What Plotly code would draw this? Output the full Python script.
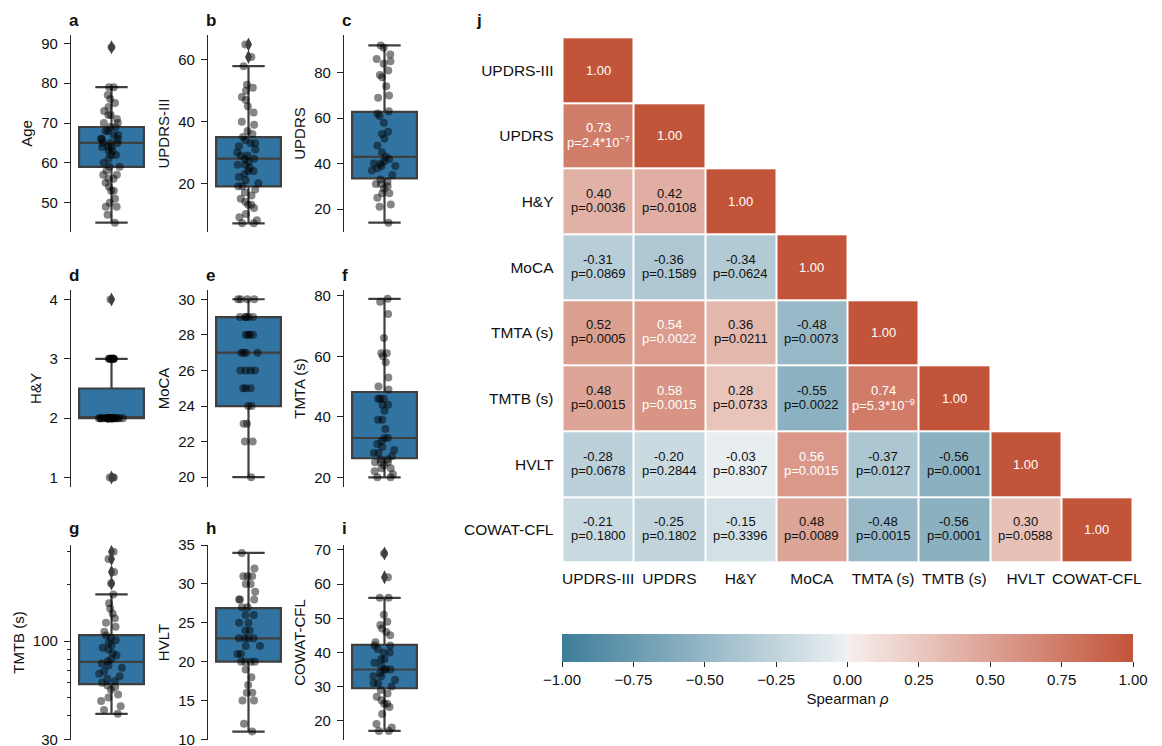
import plotly.graph_objects as go

W, H = 1162, 746
OFF = 8  # the page body adds an 8px margin around the figure
FONT = "Liberation Sans, Arial, Helvetica, sans-serif"

# ---------------- box-plot panel data ----------------
panel_letters = ["a", "b", "c", "d", "e", "f", "g", "h", "i"]
panel_labels = ["Age", "UPDRS-III", "UPDRS", "H&Y", "MoCA", "TMTA (s)", "TMTB (s)", "HVLT", "COWAT-CFL"]

age = [89, 79, 79, 77, 76, 75, 74, 73, 72, 72, 71, 70, 70, 69, 69, 68, 68, 67, 67, 66, 66, 66, 65, 65, 65,
       64, 64, 64, 63, 63, 62, 62, 61, 60, 59, 59, 58, 57, 57, 56, 56, 55, 54, 53, 53, 51, 50, 49, 49, 47, 45]
updrs3 = [65, 61, 58, 52, 51, 50, 48, 47, 45, 43, 40, 39, 37, 36, 35, 34, 33, 33, 32, 31, 30, 29, 29, 28, 28,
          27, 26, 26, 25, 24, 24, 23, 22, 21, 20, 19, 19, 18, 17, 16, 15, 14, 13, 13, 12, 10, 9, 8, 7, 7]
updrs = [92, 91, 88, 86, 85, 84, 81, 79, 78, 74, 70, 69, 63, 62, 61, 58, 54, 53, 51, 48, 45, 43, 42, 41, 40,
         40, 39, 39, 38, 37, 35, 33, 32, 31, 31, 30, 29, 27, 27, 25, 22, 21, 14]
hy = [4, 3, 3, 3, 3, 3, 3, 3, 3, 3, 3, 2, 2, 2, 2, 2, 2, 2, 2, 2, 2, 2, 2, 2, 2, 2, 2, 2, 2, 2, 2,
      2, 2, 2, 2, 2, 2, 2, 2, 2, 1, 1, 1]
moca = [30, 30, 30, 30, 29, 29, 29, 29, 29, 28, 28, 28, 28, 27, 27, 27, 27, 26, 26, 26, 26, 25, 25, 25,
        24, 24, 23, 23, 22, 22, 20]
tmta = [79, 78, 74, 66, 61, 61, 60, 58, 53, 50, 49, 46, 46, 46, 44, 44, 42, 39, 39, 36, 33, 33, 32, 31, 30,
        29, 28, 28, 27, 26, 26, 25, 25, 25, 24, 23, 23, 22, 21, 20, 20]
tmtb = [298, 273, 233, 202, 177, 159, 149, 140, 132, 125, 119, 112, 107, 104, 101, 98, 95, 92, 90, 86, 84,
        80, 78, 76, 74, 72, 69, 67, 65, 63, 61, 60, 58, 57, 55, 52, 50, 48, 45, 43, 41]
hvlt = [34, 32, 31, 31, 31, 30, 30, 29, 28, 28, 28, 27, 27, 26, 26, 25, 25, 24, 24, 23, 23, 23, 23, 22, 22,
        21, 21, 20, 20, 20, 20, 19, 18, 17, 16, 16, 15, 15, 12, 11]
cowat = [69, 62, 56, 56, 51, 49, 48, 47, 46, 45, 43, 42, 42, 41, 40, 40, 38, 38, 37, 36, 35, 35, 35, 34, 33,
         33, 32, 31, 31, 30, 29, 28, 27, 26, 25, 25, 24, 22, 19, 18, 17, 17]

# box statistics: [lower whisker, Q1, median, Q3, upper whisker]
age_stats = [45, 59, 65, 69, 79]
updrs3_stats = [7, 19, 28, 35, 58]
updrs_stats = [14, 33.5, 43, 62.8, 92]
hy_stats = [2, 2, 2, 2.5, 3]
moca_stats = [20, 24, 27, 29, 30]
tmta_stats = [20, 26.3, 33, 48.2, 79]
tmtb_stats = [41, 59, 77.5, 107.5, 177]
hvlt_stats = [11, 20, 23, 26.9, 34]
cowat_stats = [17, 29.5, 35, 42.2, 56]

# flier values (drawn as diamonds)
age_out = [89]
updrs3_out = [61, 65]
updrs_out = []
hy_out = [1, 4]
moca_out = []
tmta_out = []
tmtb_out = [202, 233, 273, 298]
hvlt_out = []
cowat_out = [62, 69]

panel_values = [age, updrs3, updrs, hy, moca, tmta, tmtb, hvlt, cowat]
panel_stats = [age_stats, updrs3_stats, updrs_stats, hy_stats, moca_stats, tmta_stats, tmtb_stats, hvlt_stats, cowat_stats]
panel_out = [age_out, updrs3_out, updrs_out, hy_out, moca_out, tmta_out, tmtb_out, hvlt_out, cowat_out]

# axis ticks
panel_ticks = [[50, 60, 70, 80, 90], [20, 40, 60], [20, 40, 60, 80], [1, 2, 3, 4],
               [20, 22, 24, 26, 28, 30], [20, 40, 60, 80], [30, 100], [10, 15, 20, 25, 30, 35],
               [20, 30, 40, 50, 60, 70]]
tmtb_minor = [40, 50, 60, 70, 80, 90, 200, 300]

# ---------------- correlation data ----------------
vars_ = ["UPDRS-III", "UPDRS", "H&Y", "MoCA", "TMTA (s)", "TMTB (s)", "HVLT", "COWAT-CFL"]
rho = [
    [1.00, None, None, None, None, None, None, None],
    [0.73, 1.00, None, None, None, None, None, None],
    [0.40, 0.42, 1.00, None, None, None, None, None],
    [-0.31, -0.36, -0.34, 1.00, None, None, None, None],
    [0.52, 0.54, 0.36, -0.48, 1.00, None, None, None],
    [0.48, 0.58, 0.28, -0.55, 0.74, 1.00, None, None],
    [-0.28, -0.20, -0.03, 0.56, -0.37, -0.56, 1.00, None],
    [-0.21, -0.25, -0.15, 0.48, -0.48, -0.56, 0.30, 1.00],
]
pval = [
    [None] * 8,
    [2.4e-7, None, None, None, None, None, None, None],
    [0.0036, 0.0108, None, None, None, None, None, None],
    [0.0869, 0.1589, 0.0624, None, None, None, None, None],
    [0.0005, 0.0022, 0.0211, 0.0073, None, None, None, None],
    [0.0015, 0.0015, 0.0733, 0.0022, 5.3e-9, None, None, None],
    [0.0678, 0.2844, 0.8307, 0.0015, 0.0127, 0.0001, None, None],
    [0.1800, 0.1802, 0.3396, 0.0089, 0.0015, 0.0001, 0.0588, None],
]
cbar_ticks = [-1.0, -0.75, -0.5, -0.25, 0.0, 0.25, 0.5, 0.75, 1.0]

# ---------------- layout geometry (screen pixels) ----------------
col_px = [(71, 152), (208, 289), (344, 425)]
row_px = [(35, 232), (290, 487), (545, 740)]
yranges = [[42.65, 92.08], [4.2, 68.1], [9.9, 96.6],
           [0.84, 4.16], [19.45, 30.52], [16.8, 81.9],
           [1.4734, 2.5106], [9.91, 35.02], [14.35, 71.46]]
letter_y = [20, 275, 528]


def fx(p):
    return (p - OFF) / W


def fy(p):
    return 1 - (p - OFF) / H


BOX_FILL = "#3274a1"
BOX_LINE = "#3f3f3f"
AX = "#262626"
TXT = "#111111"

fig = go.Figure()
layout = dict(
    width=W, height=H, margin=dict(l=0, r=0, t=0, b=0),
    paper_bgcolor="white", plot_bgcolor="white",
    font=dict(family=FONT, size=15, color=TXT),
    showlegend=False, boxmode="overlay",
)
annotations = []

for k in range(9):
    r, c = divmod(k, 3)
    idx = "" if k == 0 else str(k + 1)
    xr = "x" + idx
    yr = "y" + idx
    lo, q1, med, q3, hi = panel_stats[k]
    fig.add_trace(go.Box(
        x=[0], q1=[q1], median=[med], q3=[q3], lowerfence=[lo], upperfence=[hi],
        width=0.8, whiskerwidth=0.5, fillcolor=BOX_FILL,
        line=dict(color=BOX_LINE, width=2.2), boxpoints=False,
        xaxis=xr, yaxis=yr, hoverinfo="skip"))
    if panel_out[k]:
        fig.add_trace(go.Scatter(
            x=[0] * len(panel_out[k]), y=panel_out[k], mode="markers",
            marker=dict(symbol="diamond-tall", size=10, color=BOX_LINE),
            xaxis=xr, yaxis=yr, hoverinfo="skip"))
    vals = panel_values[k]
    fig.add_trace(go.Box(
        x=[0] * len(vals), y=vals, boxpoints="all", jitter=0.4, pointpos=0,
        width=0.8, fillcolor="rgba(0,0,0,0)",
        line=dict(color="rgba(0,0,0,0)", width=0),
        marker=dict(color="rgba(0,0,0,0.48)", size=8, line=dict(width=0)),
        xaxis=xr, yaxis=yr, hoverinfo="skip"))

    x0, x1 = col_px[c]
    y0, y1 = row_px[r]
    layout["xaxis" + idx] = dict(domain=[fx(x0), fx(x1)], range=[-0.5, 0.5], visible=False,
                                 anchor=yr, fixedrange=True)
    yax = dict(domain=[fy(y1), fy(y0)], range=yranges[k], anchor=xr,
               showline=True, linecolor=AX, linewidth=1.3,
               ticks="outside", ticklen=6, tickwidth=1.3, tickcolor=AX,
               tickvals=panel_ticks[k], showgrid=False, zeroline=False,
               tickfont=dict(size=15, color=TXT), ticklabelstandoff=3,
               title=dict(text=panel_labels[k], font=dict(size=15, color=TXT), standoff=4),
               automargin=False)
    if k == 6:
        yax["type"] = "log"
        yax["minor"] = dict(tickvals=tmtb_minor, ticks="outside", ticklen=3, tickwidth=1, tickcolor=AX)
    layout["yaxis" + idx] = yax
    annotations.append(dict(text="<b>%s</b>" % panel_letters[k], x=fx(x0 - 4), y=fy(letter_y[r]),
                            xref="paper", yref="paper", xanchor="left", yanchor="middle",
                            showarrow=False, font=dict(size=17, color=TXT)))

# ---------------- heatmap ----------------
neg = (61, 125, 153)
gneg = (236, 240, 242)
mid = (242, 242, 242)
gpos = (246, 238, 236)
pos = (194, 84, 58)


def rgb(t):
    return "rgb(%d,%d,%d)" % t


cscale = [[0.0, rgb(neg)], [0.496, rgb(gneg)], [0.5, rgb(mid)], [0.504, rgb(gpos)], [1.0, rgb(pos)]]

hx0, hx1, hy0, hy1 = 562.5, 1132.5, 37.3, 562.7
cb_x0, cb_x1, cb_y0 = 562, 1133, 634

fig.add_trace(go.Heatmap(
    z=rho, x=vars_, y=vars_, zmin=-1, zmax=1, colorscale=cscale,
    xgap=2, ygap=2, hoverinfo="skip", xaxis="x10", yaxis="y10",
    colorbar=dict(orientation="h", x=fx((cb_x0 + cb_x1) / 2), xanchor="center",
                  y=fy(cb_y0), yanchor="top", len=(cb_x1 - cb_x0) / W, lenmode="fraction",
                  thickness=28, thicknessmode="pixels", xpad=0, ypad=0,
                  outlinewidth=0, ticks="outside", ticklen=5, tickwidth=1.2, tickcolor=AX,
                  tickvals=cbar_ticks, tickformat=".2f",
                  tickfont=dict(size=15, color=TXT),
                  title=dict(text="Spearman <i>ρ</i>", side="bottom", font=dict(size=15, color=TXT)))))

layout["xaxis10"] = dict(domain=[fx(hx0), fx(hx1)], anchor="y10", showgrid=False, zeroline=False,
                         showline=False, ticks="", tickfont=dict(size=15.5, color=TXT),
                         automargin=False, fixedrange=True, ticklabelstandoff=5)
layout["yaxis10"] = dict(domain=[fy(hy1), fy(hy0)], anchor="x10", autorange="reversed", showgrid=False,
                         zeroline=False, showline=False, ticks="", tickfont=dict(size=15.5, color=TXT),
                         automargin=False, fixedrange=True, ticklabelstandoff=8)


def pfmt(p):
    if p < 1e-4:
        mant, ex = ("%.1e" % p).split("e")
        return "p=%s*10<sup>−%d</sup>" % (mant, abs(int(ex)))
    return "p=%.4f" % p


for i in range(8):
    for j in range(i + 1):
        rv = rho[i][j]
        color = "white" if rv >= 0.535 else TXT
        if i == j:
            annotations.append(dict(text="%.2f" % rv, x=vars_[j], y=vars_[i], xref="x10", yref="y10",
                                    showarrow=False, font=dict(size=13, color=color)))
        else:
            annotations.append(dict(text="%.2f" % rv, x=vars_[j], y=vars_[i], xref="x10", yref="y10",
                                    yshift=8, showarrow=False, font=dict(size=13, color=color)))
            annotations.append(dict(text=pfmt(pval[i][j]), x=vars_[j], y=vars_[i], xref="x10", yref="y10",
                                    yshift=-6, showarrow=False, font=dict(size=13, color=color)))

annotations.append(dict(text="<b>j</b>", x=fx(474), y=fy(20), xref="paper", yref="paper",
                        xanchor="left", yanchor="middle", showarrow=False,
                        font=dict(size=17, color=TXT)))

layout["annotations"] = annotations
fig.update_layout(template="none")
fig.update_layout(**layout)
fig.write_html("out.html")
